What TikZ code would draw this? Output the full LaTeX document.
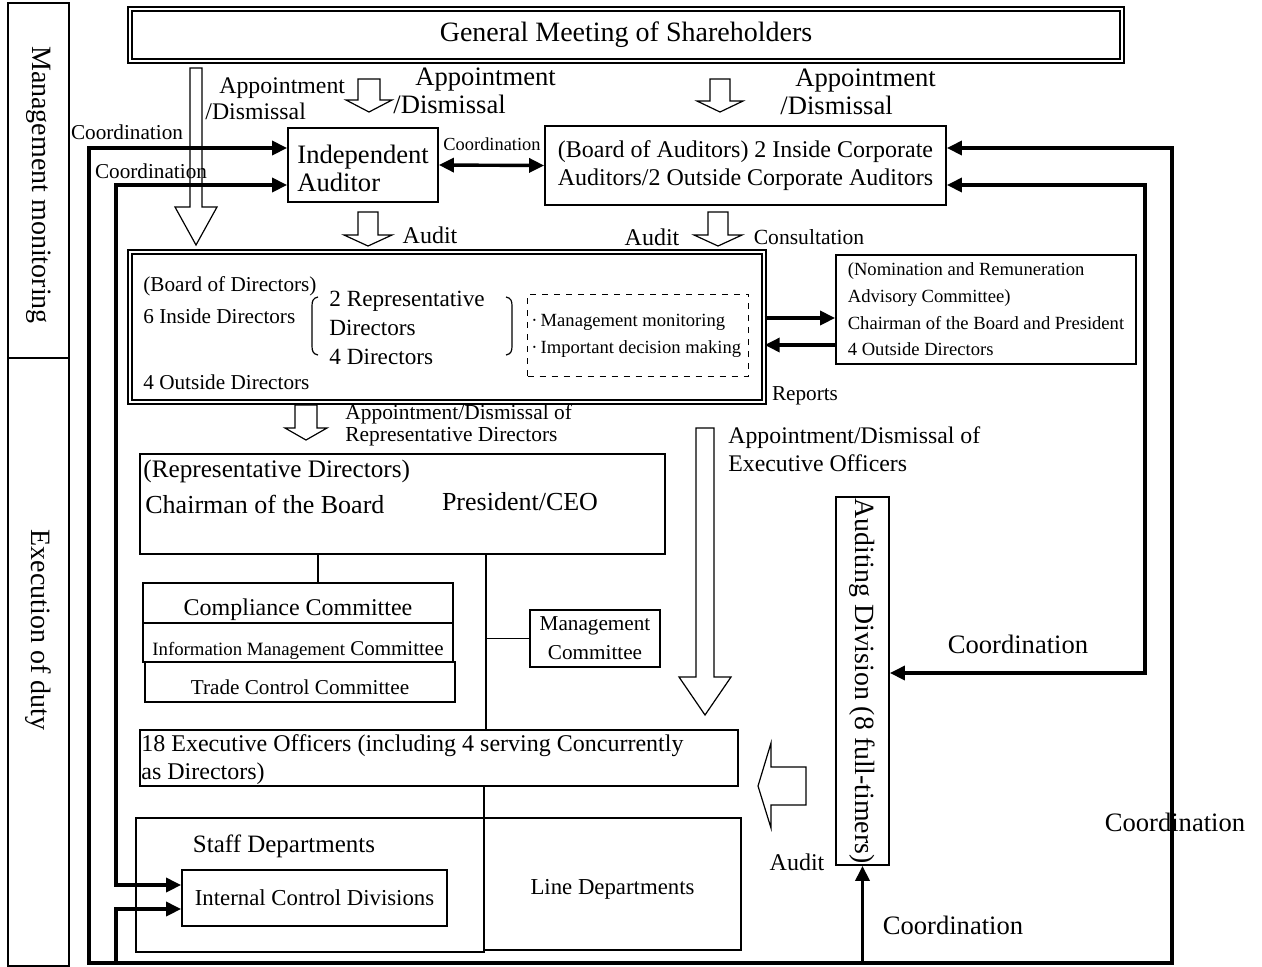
\documentclass[tikz,border=0pt]{standalone}
\usepackage{fontspec}
\setmainfont{Liberation Serif}
\usetikzlibrary{arrows.meta}

\newcommand{\txtXL}{\fontsize{14}{15}\selectfont}
\newcommand{\txtL}{\fontsize{13.3}{14}\selectfont}
\newcommand{\txtM}{\fontsize{12}{14}\selectfont}
\newcommand{\txtS}{\fontsize{10.6}{11}\selectfont}
\newcommand{\txtXS}{\fontsize{9.3}{13.3}\selectfont}

\tikzset{
  box/.style={draw, line width=0.9pt, inner sep=0pt},
  dbox/.style={draw, double, double distance=1.4pt, line width=0.7pt, inner sep=0pt},
  hollow/.style={draw, line width=0.6pt},
  rule/.style={line width=0.6pt},
  low/.style={text height=15pt, text depth=2.5pt},
  link/.style={line width=1.7pt, -{Triangle[length=7.5pt,width=7pt]}},
  both/.style={line width=1.7pt, {Triangle[length=7.5pt,width=7pt]}-{Triangle[length=7.5pt,width=7pt]}},
  lbl/.style={inner sep=0pt},
}

\begin{document}
\begin{tikzpicture}[x=0.5pt, y=-0.5pt] % one unit = one pixel of the reference
			\useasboundingbox (0,0) rectangle (1262,966);

			% Macro for a hollow arrow pointing down.
			% Usage: \hollowdown{x}{top}{bottom}{shaft half}{head half}{head length}
			\newcommand{\hollowdown}[6]{
				\draw[hollow] (#1-#4,#2) -- (#1+#4,#2) -- (#1+#4,#3-#6) -- (#1+#5,#3-#6) -- (#1,#3) -- (#1-#5,#3-#6) -- (#1-#4,#3-#6) -- cycle;
			}

			% Side bar
			\node[box, minimum width=30.5pt, minimum height=177.5pt] (mon) at (38.5,180.5) {};
			\node[box, minimum width=30.5pt, minimum height=304pt] (exe) at (38.5,662) {};
			\node[lbl, rotate=-90, font=\txtXL] (monlabel) at (38.5,185) {Management monitoring};
			\node[lbl, rotate=-90, font=\txtXL] (exelabel) at (38.5,630) {Execution of duty};

			% Shareholders and auditors
			\node[dbox, minimum width=496pt, minimum height=26pt, font=\txtXL] (gms) at (626,35) {General Meeting of Shareholders};
			\node[box, minimum width=75pt, minimum height=37pt] (iaud) at (363,165) {};
			\node[lbl, align=left, font=\txtL, anchor=west] (iaudtext) at (297,168) {Independent\\Auditor};
			\node[box, minimum width=200.5pt, minimum height=39.5pt, align=center, font=\txtM] (baud) at (745.5,165.5) {(Board of Auditors) 2 Inside Corporate\\Auditors/2 Outside Corporate Auditors};

			\node[lbl, align=left, font=\fontsize{11.9}{13}\selectfont, anchor=west] (appt1) at (205,99) {\hspace{7pt}Appointment\\/Dismissal};
			\node[lbl, align=left, font=\txtL, anchor=west] (appt2) at (393,90.5) {\hspace{11pt}Appointment\\/Dismissal};
			\node[lbl, align=left, font=\txtL, anchor=west] (appt3) at (780,92) {\hspace{7.5pt}Appointment\\/Dismissal};

			\hollowdown{196}{68}{245}{6}{21}{38}
			\hollowdown{369}{79}{112}{11}{23}{12}
			\hollowdown{720}{79}{112}{10}{23}{11}
			\hollowdown{368}{212}{246}{10}{24}{11}
			\hollowdown{718}{212}{246}{10}{24}{11}

			\node[lbl, font=\fontsize{9.2}{10}\selectfont] (coordia) at (492,144) {Coordination};
			\node[lbl, font=\txtS] (coordl1) at (127,132) {Coordination};
			\node[lbl, font=\txtS] (coordl2) at (151,171) {Coordination};
			\node[lbl, font=\txtM] (audit1) at (430,235) {Audit};
			\node[lbl, font=\txtM] (audit2) at (652,237) {Audit};
			\node[lbl, font=\fontsize{10.8}{12}\selectfont] (consult) at (809,237) {Consultation};

			% Board of Directors
			\node[dbox, minimum width=317pt, minimum height=75pt] (bod) at (447,327) {};
			\node[lbl, anchor=west, font=\txtS] (bodname) at (143,286) {(Board of Directors)};
			\node[lbl, anchor=west, font=\txtS] (bodin) at (143,316) {6 Inside Directors};
			\node[lbl, anchor=west, font=\txtS] (bodout) at (143,382) {4 Outside Directors};
			\node[lbl, anchor=west, font=\fontsize{11.6}{14.6}\selectfont, align=left] (bodrep) at (329,328) {2 Representative\\Directors\\4 Directors};
			\draw[rule] (318,297) .. controls (313,298) and (312,301) .. (312,306) -- (312,346) .. controls (312,351) and (313,354) .. (318,355);
			\draw[rule] (506,297) .. controls (511,298) and (512,301) .. (512,306) -- (512,346) .. controls (512,351) and (511,354) .. (506,355);
			\node[draw, dashed, line width=0.5pt, minimum width=110.5pt, minimum height=41pt, inner sep=0pt] (bodtask) at (638,335) {};
			\node[lbl, align=left, font=\txtXS, anchor=west] (bodtasktext) at (531,336) {·\,Management monitoring\\·\,Important decision making};

			\node[box, minimum width=150pt, minimum height=54.5pt, align=left, font=\txtXS] (nom) at (986,309.5) {(Nomination and Remuneration\\Advisory Committee)\\Chairman of the Board and President\\4 Outside Directors};
			\coordinate (bn1) at (800,318);
			\coordinate (bn2) at (800,345);
			\draw[link] (bn1 -| bod.east) -- (bn1 -| nom.west);
			\draw[link] (bn2 -| nom.west) -- (bn2 -| bod.east);
			\node[lbl, font=\txtS] (reports) at (805,396) {Reports};

			% Appointment of representative directors and executive officers
			\hollowdown{306}{405}{440}{11}{21}{12}
			\node[lbl, anchor=west, align=left, font=\fontsize{10.7}{11}\selectfont] (apptrep) at (345,425) {Appointment/Dismissal of\\Representative Directors};
			\hollowdown{705}{428}{715}{9}{26}{38}
			\node[lbl, anchor=west, align=left, font=\fontsize{11.9}{14}\selectfont] (appteo) at (728,449) {Appointment/Dismissal of\\Executive Officers};

			% Execution side
			\node[box, minimum width=262.5pt, minimum height=50pt] (rep) at (402.5,504) {};
			\node[lbl, anchor=west, font=\fontsize{12.6}{14}\selectfont] (repname) at (143,471) {(Representative Directors)};
			\node[lbl, anchor=west, font=\fontsize{13}{14}\selectfont] (chair) at (145,504) {Chairman of the Board};
			\node[lbl, font=\fontsize{13}{14}\selectfont] (pres) at (520,502) {President/CEO};

			\node[box, minimum width=155pt, minimum height=20pt, font=\txtM, low] (comp) at (298,603) {Compliance Committee};
			\node[box, minimum width=155pt, minimum height=19.5pt, font=\fontsize{10.5}{12}\selectfont, low] (info) at (298,642.5) {{\fontsize{9.4}{11}\selectfont Information Management} Committee};
			\node[box, minimum width=155pt, minimum height=20pt, font=\txtS, low] (trade) at (300,682) {Trade Control Committee};
			\node[box, minimum width=65pt, minimum height=28.5pt, align=center, font=\fontsize{10.6}{14.5}\selectfont] (mgmt) at (595,638.5) {Management\\Committee};

			\node[box, minimum width=299pt, minimum height=28pt] (eo) at (439,758) {};
			\node[lbl, anchor=west, align=left, font=\txtM] (eotext) at (141,760) {18 Executive Officers (including 4 serving Concurrently\\as Directors)};

			\node[box, minimum width=174pt, minimum height=67pt] (staff) at (310,885) {};
			\node[lbl, font=\fontsize{12.5}{14}\selectfont] (stafftext) at (284,846) {Staff Departments};
			\node[box, minimum width=132.5pt, minimum height=28pt, font=\fontsize{11.4}{13}\selectfont] (icd) at (314.5,898) {Internal Control Divisions};
			\node[box, minimum width=128.5pt, minimum height=66pt, font=\fontsize{11.4}{13}\selectfont, text height=13pt, text depth=2.5pt] (linedep) at (612.5,884) {Line Departments};

			\coordinate (v1) at (318,0);
			\coordinate (v2) at (486,0);
			\coordinate (v3) at (484,0);
			\draw[rule] (rep.south -| v1) -- (comp.north -| v1);
			\draw[rule] (rep.south -| v2) -- (eo.north -| v2);
			\draw[rule] (v2 |- mgmt.west) -- (mgmt.west);
			\draw[rule] (eo.south -| v3) -- (staff.north -| v3);

			% Auditing Division
			\node[box, minimum width=26.5pt, minimum height=184pt] (ad) at (862.5,681) {};
			\node[lbl, rotate=-90, font=\fontsize{13.9}{15}\selectfont] (adtext) at (ad.center) {Auditing Division (8 full-timers)};
			\draw[hollow] (758,786) -- (771,743) -- (771,767) -- (806,767) -- (806,805) -- (771,805) -- (771,828) -- cycle;
			\node[lbl, font=\txtM] (audit3) at (797,862) {Audit};

			% Coordination lines
			\coordinate (lt1) at (89,148);
			\coordinate (lb1) at (89,963);
			\coordinate (rb1) at (1172,963);
			\coordinate (rt1) at (1172,148);
			\coordinate (lt2) at (116,185);
			\coordinate (lm2) at (116,885);
			\coordinate (lb2) at (116,963);
			\coordinate (lm3) at (116,909);
			\coordinate (rt2) at (1145,185);
			\coordinate (rm2) at (1145,673);
			\draw[both] (lt1 -| iaud.west) -- (lt1) -- (lb1) -- (rb1) -- (rt1) -- (rt1 -| baud.east);
			\draw[both] (lt2 -| iaud.west) -- (lt2) -- (lm2) -- (lm2 -| icd.west);
			\draw[link] (lb2) -- (lm3) -- (lm3 -| icd.west);
			\draw[link] (ad.south |- lb1) -- (ad.south);
			\draw[both] (rt2 -| baud.east) -- (rt2) -- (rm2) -- (rm2 -| ad.east);
			\draw[both] (iaud.east) -- (baud.west);

			\node[lbl, font=\txtL] (coordr1) at (1018,644) {Coordination};
			\node[lbl, font=\txtL] (coordr2) at (1175,822) {Coordination};
			\node[lbl, font=\txtL] (coordb) at (953,925) {Coordination};
		\end{tikzpicture}
\end{document}
